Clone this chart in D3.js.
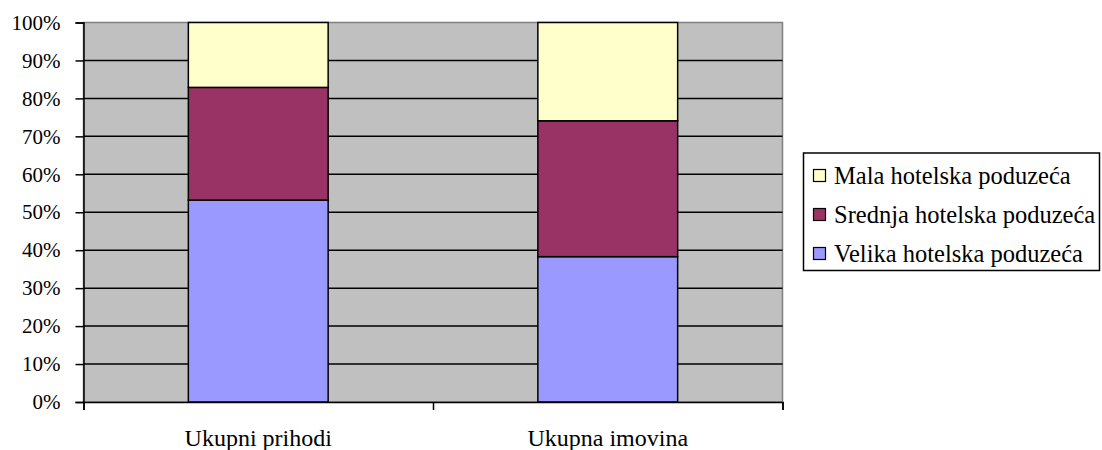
<!DOCTYPE html>
<html>
<head>
<meta charset="utf-8">
<script src="https://cdn.jsdelivr.net/npm/d3@7"></script>
<style>
  body { margin: 0; background: #fff; }
  text { font-family: "Liberation Serif", "Times New Roman", serif; fill: #000; }
</style>
</head>
<body>
<div id="chart-area"></div>
<script>
// data
var categories = ["Ukupni prihodi", "Ukupna imovina"];
var seriesNames = ["Velika hotelska poduzeća", "Srednja hotelska poduzeća", "Mala hotelska poduzeća"];
var velika = [53.2, 38.3];
var srednja = [29.7, 35.8];
var mala = [17.1, 25.9];
var yTicks = [0, 10, 20, 30, 40, 50, 60, 70, 80, 90, 100];
var colors = ["#9999FF", "#993366", "#FFFFCC"];

var width = 1102, height = 450;
var plot = {left: 83.5, right: 782.5, top: 22.5, bottom: 402};

var svg = d3.select("#chart-area").append("svg")
  .attr("width", width)
  .attr("height", height);

var x = d3.scaleBand().domain(categories)
  .range([plot.left, plot.right])
  .paddingInner(0.6).paddingOuter(0.3);
var y = d3.scaleLinear().domain([0, 100]).range([plot.bottom, plot.top]);

// stack the series
var table = categories.map(function(c, i) {
  return {cat: c, v: velika[i], s: srednja[i], m: mala[i]};
});
var stack = d3.stack().keys(["v", "s", "m"]);
var layers = stack(table);

// plot background
svg.append("rect")
  .attr("x", plot.left).attr("y", plot.top)
  .attr("width", plot.right - plot.left)
  .attr("height", plot.bottom - plot.top)
  .attr("fill", "#C0C0C0")
  .attr("stroke", "#808080")
  .attr("stroke-width", 1.5);

// gridlines
svg.append("g").selectAll("line")
  .data(yTicks.filter(function(d) { return d > 0 && d < 100; }))
  .enter().append("line")
  .attr("x1", plot.left).attr("x2", plot.right)
  .attr("y1", function(d) { return y(d); })
  .attr("y2", function(d) { return y(d); })
  .attr("stroke", "#000")
  .attr("stroke-width", 1.5);

// bars
svg.append("g").selectAll("g")
  .data(layers)
  .enter().append("g")
  .attr("fill", function(d, i) { return colors[i]; })
  .selectAll("rect")
  .data(function(d) { return d; })
  .enter().append("rect")
  .attr("x", function(d) { return x(d.data.cat); })
  .attr("y", function(d) { return y(d[1]); })
  .attr("width", x.bandwidth())
  .attr("height", function(d) { return y(d[0]) - y(d[1]); })
  .attr("stroke", "#000")
  .attr("stroke-width", 1.5);

// y axis
var yAxis = d3.axisLeft(y)
  .tickValues(yTicks)
  .tickSize(8)
  .tickPadding(15)
  .tickFormat(function(d) { return d + "%"; });
var yg = svg.append("g")
  .attr("transform", "translate(" + plot.left + ",0)")
  .call(yAxis);
yg.select(".domain").attr("stroke", "#000").attr("stroke-width", 1.5);
yg.selectAll(".tick line").attr("stroke", "#000").attr("stroke-width", 1.5);
yg.selectAll("text").attr("font-size", "21px");

// x axis ticks at category boundaries
var xEdges = d3.scaleLinear().domain([0, categories.length]).range([plot.left, plot.right]);
var xg = svg.append("g")
  .attr("transform", "translate(0," + plot.bottom + ")")
  .call(d3.axisBottom(xEdges).ticks(categories.length).tickSize(8).tickFormat(""));
xg.select(".domain").attr("stroke", "#000").attr("stroke-width", 1.5);
xg.selectAll(".tick line").attr("stroke", "#000").attr("stroke-width", 1.5);

// category labels
svg.append("g").selectAll("text")
  .data(categories)
  .enter().append("text")
  .attr("x", function(d) { return x(d) + x.bandwidth() / 2; })
  .attr("y", 446)
  .attr("text-anchor", "middle")
  .attr("font-size", "24px")
  .text(function(d) { return d; });

// legend
var legend = svg.append("g").attr("transform", "translate(803.5,153)");
legend.append("rect")
  .attr("width", 296).attr("height", 117.5)
  .attr("fill", "#fff")
  .attr("stroke", "#000")
  .attr("stroke-width", 1.5);
var order = [2, 1, 0];
var items = legend.selectAll("g.item")
  .data(order)
  .enter().append("g")
  .attr("class", "item")
  .attr("transform", function(d, i) { return "translate(0," + (30.5 + i * 39) + ")"; });
items.append("rect")
  .attr("x", 10).attr("y", -14)
  .attr("width", 12).attr("height", 12)
  .attr("fill", function(d) { return colors[d]; })
  .attr("stroke", "#000")
  .attr("stroke-width", 1.2);
items.append("text")
  .attr("x", 30.5)
  .attr("y", 0)
  .attr("font-size", "24.5px")
  .text(function(d) { return seriesNames[d]; });
</script>
</body>
</html>
